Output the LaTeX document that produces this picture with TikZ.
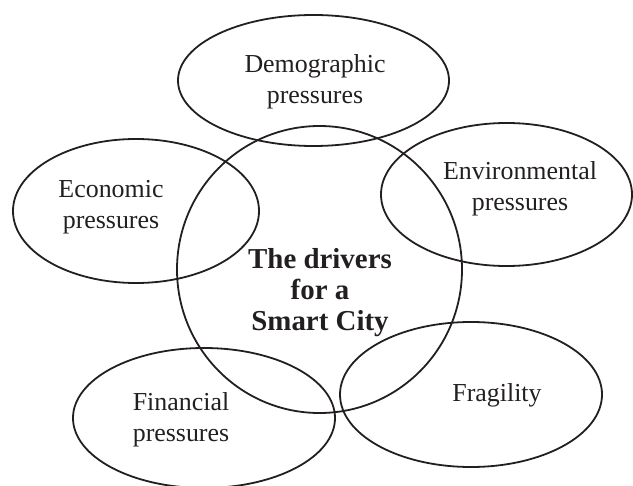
\documentclass[tikz,border=0pt]{standalone}
\usepackage{fontspec}
\setmainfont{Liberation Serif}
\usetikzlibrary{shapes.geometric}
\definecolor{ink}{HTML}{231F20}
\tikzset{
  bubble/.style={draw=ink, line width=1.8bp, ellipse, inner sep=0pt},
  lbl/.style={text=ink, align=center, inner sep=0pt, font=\fontsize{26}{31}\selectfont},
  hub/.style={text=ink, align=center, inner sep=0pt, font=\fontsize{29}{31.5}\selectfont\bfseries},
}
\begin{document}
\begin{tikzpicture}[x=1bp, y=-1bp]
\useasboundingbox (0,0) rectangle (633,486);
% ellipses
\node[bubble, minimum width=271bp, minimum height=131bp] (demo) at (313.5,80.5) {};
\node[bubble, minimum width=246bp, minimum height=144bp] (econ) at (136,211) {};
\node[bubble, minimum width=251bp, minimum height=143bp] (envi) at (506.5,194.5) {};
\node[bubble, minimum width=262bp, minimum height=140bp] (fina) at (204,418) {};
\node[bubble, minimum width=262bp, minimum height=145bp] (frag) at (471,394.5) {};
\node[bubble, minimum width=285bp, minimum height=287bp] (hubc) at (319.5,269.5) {};
% labels
\node[lbl] (demoT) at (315,81.4) {Demographic\\pressures};
\node[lbl] (econT) at (111,207.4) {Economic\\pressures};
\node[lbl] (enviT) at (520,188.4) {Environmental\\pressures};
\node[lbl] (finaT) at (181,419.4) {Financial\\pressures};
\node[lbl] (fragT) at (497,394.9) {Fragility};
\node[hub] (hubT) at (320,292.6) {The drivers\\for a\\Smart City};
\end{tikzpicture}
\end{document}
